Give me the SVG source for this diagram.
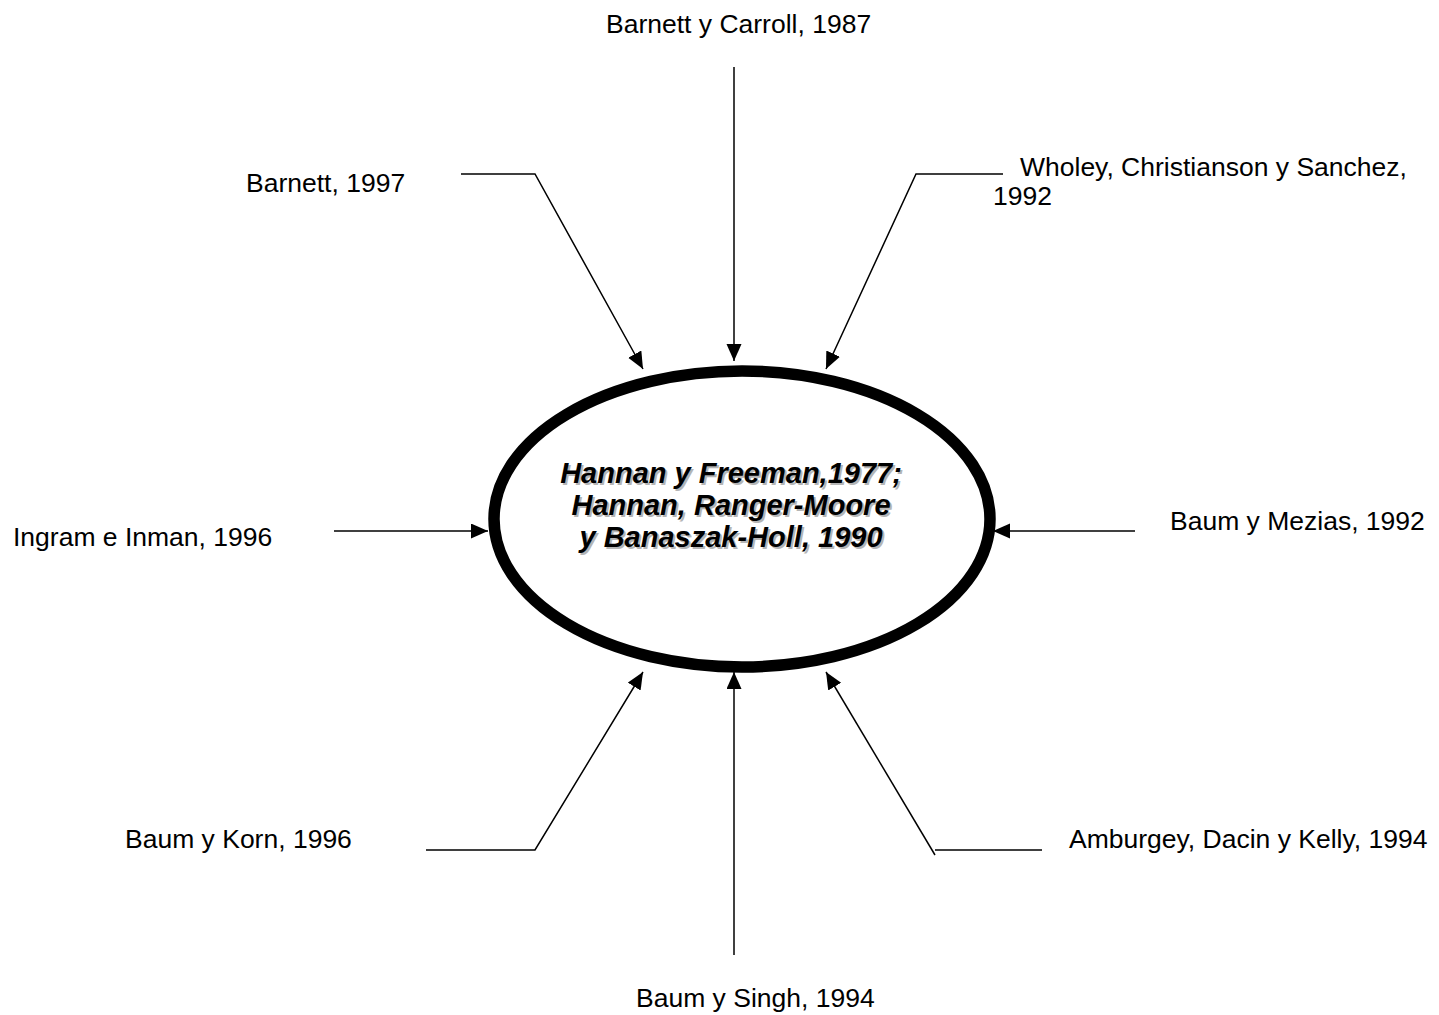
<svg xmlns="http://www.w3.org/2000/svg" width="1439" height="1015" viewBox="0 0 1439 1015">
<style>
.lbl{font-family:"Liberation Sans",Arial,sans-serif;font-size:26.5px;fill:#000}
.ctr{font-family:"Liberation Sans",Arial,sans-serif;font-size:29px;font-weight:bold;font-style:italic;text-anchor:middle}
.sh{fill:#b5b5b5}
.c{fill:none;stroke:#000;stroke-width:1.5}
.a{marker-end:url(#ah)}
</style>
<defs>
<marker id="ah" markerUnits="userSpaceOnUse" markerWidth="18" markerHeight="16" refX="17" refY="7.5" orient="auto">
<path d="M0,0 L17,7.5 L0,15 Z" fill="#000"/>
</marker>
</defs>
<rect width="1439" height="1015" fill="#fff"/>
<g id="connectors">
<line class="c a" x1="734" y1="67" x2="734" y2="361"/>
<polyline class="c a" points="461,174 535,174 643,369"/>
<polyline class="c a" points="1003,174 916,174 826,369"/>
<line class="c a" x1="334" y1="531" x2="488" y2="531"/>
<line class="c a" x1="1135" y1="531" x2="993" y2="531"/>
<polyline class="c a" points="426,850 535,850 643,672"/>
<line class="c a" x1="734" y1="955" x2="734" y2="672"/>
<polyline class="c" points="1042,850 935,850"/>
<line class="c a" x1="935" y1="855" x2="826" y2="672"/>
</g>
<g id="center">
<ellipse cx="742" cy="519" rx="248" ry="148" fill="#fff" stroke="#000" stroke-width="11.5"/>
<text class="ctr sh" x="733" y="485">Hannan y Freeman,1977;</text>
<text class="ctr sh" x="733" y="517">Hannan, Ranger-Moore</text>
<text class="ctr sh" x="733" y="549">y Banaszak-Holl, 1990</text>
<text class="ctr" x="731" y="483">Hannan y Freeman,1977;</text>
<text class="ctr" x="731" y="515">Hannan, Ranger-Moore</text>
<text class="ctr" x="731" y="547">y Banaszak-Holl, 1990</text>
</g>
<g id="n-barnett-carroll"><text class="lbl" x="606" y="33">Barnett y Carroll, 1987</text></g>
<g id="n-barnett"><text class="lbl" x="246" y="192">Barnett, 1997</text></g>
<g id="n-wholey"><text class="lbl" x="1020" y="176">Wholey, Christianson y Sanchez,</text><text class="lbl" x="993" y="205">1992</text></g>
<g id="n-ingram"><text class="lbl" x="13" y="546">Ingram e Inman, 1996</text></g>
<g id="n-mezias"><text class="lbl" x="1170" y="530">Baum y Mezias, 1992</text></g>
<g id="n-korn"><text class="lbl" x="125" y="848">Baum y Korn, 1996</text></g>
<g id="n-amburgey"><text class="lbl" x="1069" y="848">Amburgey, Dacin y Kelly, 1994</text></g>
<g id="n-singh"><text class="lbl" x="636" y="1007">Baum y Singh, 1994</text></g>
</svg>
